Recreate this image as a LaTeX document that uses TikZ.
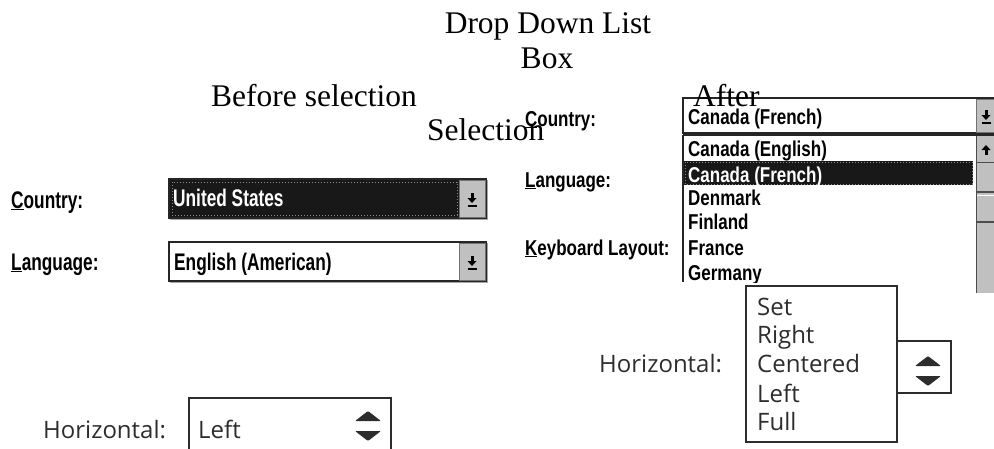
\documentclass[tikz,border=0pt]{standalone}
\usepackage{fontspec}
\setmainfont{Liberation Serif}
\newfontfamily\winbig[FakeStretch=0.72]{Liberation Sans}
\newfontfamily\winsmall[FakeStretch=0.79]{Liberation Sans}
\newfontfamily\uifont{Open Sans}
\usepackage{xcolor}
\usetikzlibrary{arrows.meta}

\definecolor{btngrey}{RGB}{192,192,192}
\definecolor{selblack}{RGB}{24,24,24}
\definecolor{frame}{RGB}{45,45,45}

\tikzset{
  darr/.pic={
    \fill (-1.5,-6) rectangle (1.5,-1);
    \fill (-4.5,-1) -- (4.5,-1) -- (0,4) -- cycle;
    \fill (-4.5,6) rectangle (4.5,7.5);
  },
  uarr/.pic={
    \fill (-4.5,1) -- (4.5,1) -- (0,-4) -- cycle;
    \fill (-1.5,1) rectangle (1.5,6);
  },
  spin/.pic={
    \fill[frame,rounded corners=1pt] (-13,-5) -- (13,-5) -- (0,-15) -- cycle;
    \fill[frame,rounded corners=1pt] (-13,5) -- (13,5) -- (0,15) -- cycle;
  },
  winbox/.style={draw=black!85,line width=1.2pt},
  winshade/.style={draw=black!35,line width=1.5pt},
  winbtn/.style={fill=btngrey,draw=black!55,line width=0.6pt},
  focus/.style={draw=black!45,dotted,line width=1pt},
  uibox/.style={draw=frame,line width=1.5pt}
}

\begin{document}
\begin{tikzpicture}[x=1pt,y=-1pt]
\useasboundingbox (0,0) rectangle (994,448);

% before: the two closed combo boxes
\draw[winshade] (170,219.5) -- (487.5,219.5) -- (487.5,180);
\draw[winbox] (169,179) rectangle (486,218);
\fill[selblack] (170,180) rectangle (459,217);
\draw[focus] (172,182) rectangle (457,215);
\draw[winbtn] (459,180) rectangle (485,217);
\pic at (472,199) {darr};

\draw[winshade] (170,282.5) -- (487.5,282.5) -- (487.5,243);
\draw[winbox] (169,242) rectangle (486,281);
\draw[winbtn] (459,243) rectangle (485,280);
\pic at (472,262) {darr};

\begin{scope}[every node/.style={font=\winbig\bfseries\fontsize{24}{27}\selectfont,inner sep=0pt,anchor=base west}]
    \node (C1) at (11,208) {\underline{C}ountry:};
    \node (L1) at (11,270) {\underline{L}anguage:};
    \node[white] (V1) at (173,206) {United States};
    \node (V2) at (174,270) {English (American)};
\end{scope}

% after: combo box with its list opened
\draw[winbox] (683,98) rectangle (998,133);
\draw[winbtn] (976,99) rectangle (994,132);
\pic at (986,116) {darr};

\fill[btngrey] (976,136) rectangle (994,293);
\draw[black!70,line width=1pt] (976,135) -- (976,293);
\draw[black!70,line width=1pt] (976,162) -- (994,162);
\pic at (986,149) {uarr};
\draw[black!70,line width=1.2pt] (976,192) -- (994,192);
\draw[white,line width=1pt] (977,195) -- (994,195);
\draw[black!70,line width=1.2pt] (976,222) -- (994,222);
\draw[winbox] (683,135) -- (998,135);
\draw[winbox] (683,135) -- (683,282);

\begin{scope}[every node/.style={font=\winsmall\bfseries\fontsize{21.5}{24}\selectfont,inner sep=0pt,anchor=base west}]
    \node (C2) at (525,126) {\underline{C}ountry:};
    \node (L2) at (525,187) {\underline{L}anguage:};
    \node (K2) at (525,255) {\underline{K}eyboard Layout:};
    \node (V3) at (688,124) {Canada (French)};

    % list entries, cut off at the lower edge
    \clip (684,136) rectangle (975,282);
    \fill[selblack] (684,161) rectangle (973,185);
    \draw[focus] (685,162) rectangle (972,184);
    \node (I1) at (688,156) {Canada (English)};
    \node[white] (I2) at (688,182) {Canada (French)};
    \node (I3) at (688,205) {Denmark};
    \node (I4) at (688,229) {Finland};
    \node (I5) at (688,255) {France};
    \node (I6) at (688,280) {Germany};
\end{scope}

% spinner boxes
\draw[uibox] (189,449) |- (391,398) -- (391,449);
\pic at (368,426) {spin};
\draw[uibox] (746,286) rectangle (897,442);
\draw[uibox] (897,341) rectangle (951,393);
\pic at (928,371) {spin};

\begin{scope}[every node/.style={font=\uifont\fontsize{24}{28}\selectfont,inner sep=0pt,anchor=base west,text=frame}]
    \node (H1) at (43,438) {Horizontal:};
    \node (S1) at (198,438) {Left};
    \node (H2) at (599,372) {Horizontal:};
    \node (O1) at (757,315) {Set};
    \node (O2) at (757,343) {Right};
    \node (O3) at (757,372) {Centered};
    \node (O4) at (757,402) {Left};
    \node (O5) at (757,430) {Full};
\end{scope}

% headings
\begin{scope}[every node/.style={font=\fontsize{31.5}{35}\selectfont,inner sep=0pt}]
    \node[anchor=base] (T1) at (548,33) {Drop Down List};
    \node[anchor=base] (T2) at (547,68) {Box};
    \node[anchor=base west] (B) at (211,106) {Before selection};
    \node[anchor=base west] (S) at (427,140) {Selection};
    \node[anchor=base west] (A) at (693,106) {After};
\end{scope}

\end{tikzpicture}
\end{document}
